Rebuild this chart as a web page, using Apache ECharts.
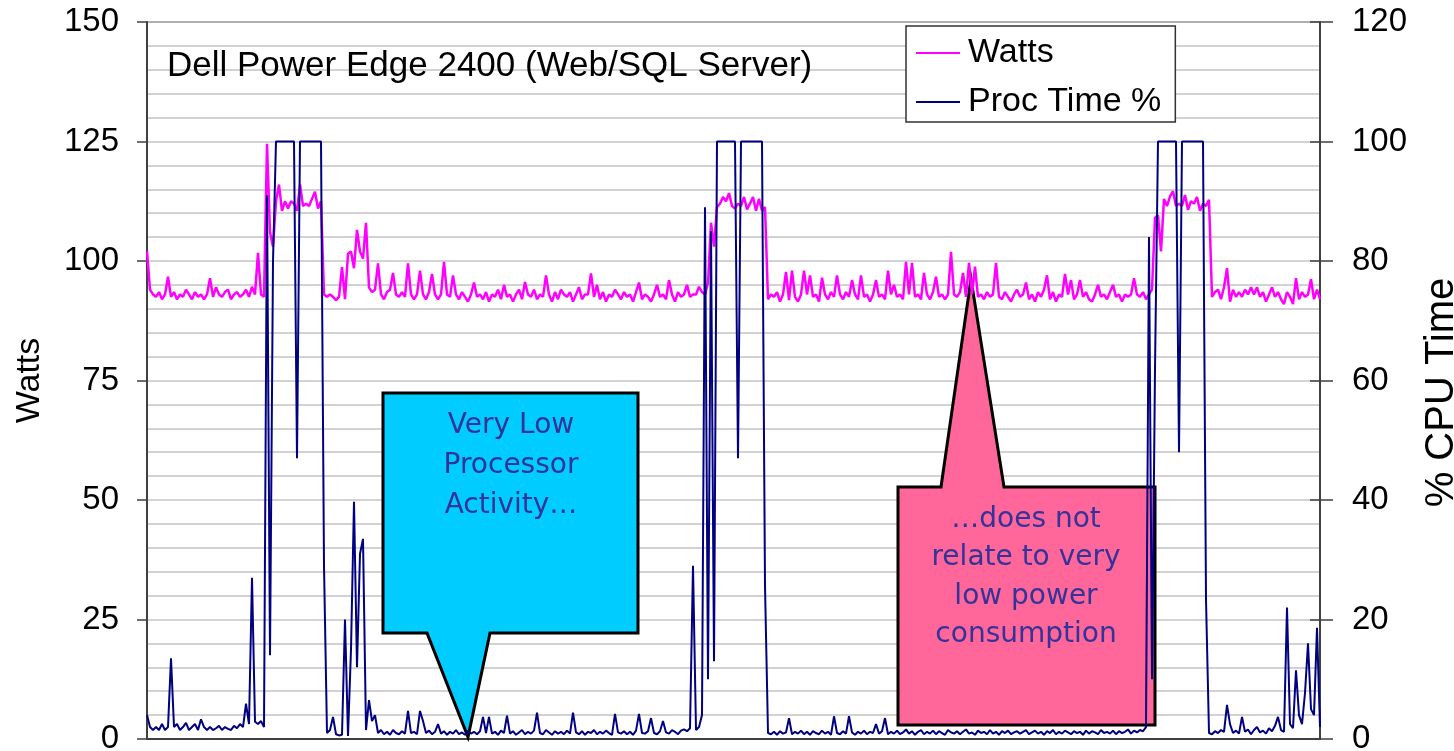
<!DOCTYPE html>
<html>
<head>
<meta charset="utf-8">
<title>Dell Power Edge 2400 - Watts vs Proc Time</title>
<script src="https://cdn.jsdelivr.net/npm/echarts@6/dist/echarts.min.js"></script>
<style>
  html, body { margin: 0; padding: 0; background: #fff; }
  #chart { width: 1454px; height: 751px; }
</style>
</head>
<body>
<div id="chart"></div>
<script>
// power draw, one reading per sample
const watts = [
  102, 94, 93, 92.5, 93.5, 92, 93, 96.7, 92.5, 93.5,
  92, 93, 92.5, 94, 93, 92, 93.5, 92.5, 93, 92,
  93, 96.4, 92.5, 94.5, 93, 92.5, 93.5, 94, 92, 93,
  93.5, 92.5, 93, 94, 92.5, 94.6, 93, 101.7, 93, 92.5,
  124.5, 106, 103, 112.5, 116, 110.5, 112.5, 111, 112.5, 112,
  110.5, 116, 111.5, 112, 111.5, 113, 114.5, 111, 112.5, 93,
  92.5, 93, 92.5, 91.8, 92.5, 98.7, 92, 101.5, 102, 98.5,
  106.5, 102, 100.5, 108, 94.5, 93.5, 94, 99.5, 93, 92,
  93.5, 94, 97.5, 93, 92.5, 93.5, 92.5, 99.5, 93, 92,
  93, 98, 93, 92, 93.5, 97.3, 93, 92, 93, 99.8,
  93, 92.5, 97, 93, 92, 93.5, 92.5, 91.5, 93, 95.5,
  92.5, 93, 92, 93.5, 91.5, 93, 92.5, 94, 92, 95,
  92.5, 93, 91.5, 93, 94, 92, 95.6, 93, 92.5, 94,
  92, 93, 92.5, 97, 93, 91.5, 93.5, 92, 94, 93,
  92.5, 93.5, 91.5, 93, 94.5, 92, 93, 93, 97.4, 92.5,
  95, 92, 93.5, 91.5, 93, 92.5, 94, 93, 92, 93.5,
  92.5, 93, 91.5, 93.5, 95.5, 92, 93, 92.5, 91.5, 93,
  95, 92.5, 93, 92, 96, 93, 91.5, 93.5, 92.5, 93,
  95, 92.5, 93, 93, 94.6, 93.5, 93, 95.4, 108, 103,
  111.3, 112, 113.4, 112.5, 114.2, 111.5, 111, 112, 111.5, 113.4,
  110.8, 112, 113.4, 110.5, 113, 110.5, 111.3, 92, 93, 92.5,
  93.5, 91.5, 93, 97.7, 91.8, 98, 92.5, 91.5, 93, 98,
  93, 97, 92.5, 93, 91.5, 96.5, 93, 92, 93.5, 92.5,
  97, 93, 92, 93.5, 92.5, 96, 93, 92, 97, 92.5,
  93, 91.5, 93, 96, 92.5, 93, 92, 98, 93, 95,
  92.5, 93, 92, 99.8, 93, 99.6, 92.5, 93, 92, 97.5,
  93, 92, 93.5, 96.7, 92.5, 93, 92, 93, 101.9, 93,
  92.5, 93.5, 97.5, 92.5, 99.6, 93, 98.8, 92.5, 93, 92,
  93.5, 92.5, 93, 99.6, 92.5, 92, 93.5, 92.5, 91.5, 93,
  94, 92.5, 93, 95.5, 92, 93, 91.5, 93.5, 92.5, 94,
  97, 92, 93.5, 91.5, 93, 92.5, 97.3, 93, 96, 92,
  93, 96, 92.5, 93.5, 92, 91.5, 93, 95, 92.5, 93,
  92, 93.5, 95, 92.5, 93, 91.5, 93, 92.5, 93, 96.4,
  93, 92.5, 93.5, 92, 93, 94, 109, 109.6, 102, 113,
  111.5, 113.5, 114.6, 111.5, 112, 111.5, 113.8, 110.7, 112.5, 112,
  113.4, 110.5, 112, 111.5, 112.8, 92.5, 93.5, 94, 92, 94.5,
  98.5, 91.5, 94, 92.5, 93.5, 92.5, 94, 93, 94.5, 93,
  94.5, 92.5, 93.5, 91.5, 93, 94.5, 92.5, 93.5, 92, 91,
  93.5, 92.5, 91, 96.4, 92, 93.5, 92.5, 93, 96.2, 92,
  94, 92
];

// processor time %, same samples
const procTime = [
  4, 2, 1.5, 2, 1.5, 2.5, 1.5, 2, 13.5, 2,
  2.5, 1.5, 2, 2.7, 1.5, 2, 2.5, 1.5, 3.3, 2,
  1.5, 2, 1.5, 1.8, 2.2, 1.5, 2, 1.7, 1.5, 2.2,
  1.8, 2.5, 2, 5.9, 2.5, 27, 2.9, 2.5, 3, 2,
  91, 14, 80, 100, 100, 100, 100, 100, 100, 100,
  47, 100, 100, 100, 100, 100, 100, 100, 100, 29,
  1, 1.5, 3.7, 0.8, 0.6, 0.7, 20, 0.5, 15, 39.7,
  12, 31, 33.5, 1.5, 6.5, 3, 4, 1, 1.5, 0.8,
  1.2, 0.7, 1.5, 1, 0.8, 1.3, 0.9, 4.7, 1, 1.2,
  0.8, 4.7, 3, 1, 1.4, 0.8, 1.2, 2.5, 0.9, 1.3,
  0.7, 1.2, 0.9, 1.5, 0.8, 1.1, 0.7, 1.4, 0.9, 1.2,
  0.8, 1.3, 3.7, 1, 3.7, 0.9, 1.2, 0.7, 1.4, 1,
  3.9, 0.9, 1.3, 0.7, 1.1, 1.5, 0.8, 1.2, 0.9, 1.4,
  4.4, 1, 0.8, 1.5, 1.1, 0.7, 1.3, 0.9, 1.2, 0.8,
  1.4, 0.9, 4.4, 1.1, 0.8, 1.3, 0.7, 1.2, 1, 1.5,
  0.8, 1.2, 0.9, 1.4, 1, 0.7, 4.2, 1.1, 0.9, 1.3,
  0.8, 1.2, 0.7, 1.4, 4.2, 1, 0.9, 1.3, 3.5, 1,
  0.8, 1.3, 3, 1.1, 0.9, 1.5, 1.2, 0.8, 1.4, 1.6,
  1.3, 1.8, 29, 1.5, 2, 4, 89, 10, 85, 13,
  100, 100, 100, 100, 100, 100, 100, 47, 100, 100,
  100, 100, 100, 100, 100, 100, 25.6, 1, 0.8, 1.2,
  0.7, 1.3, 0.9, 1.1, 3.5, 0.8, 1.2, 0.9, 1.4, 0.8,
  1.2, 0.7, 1.3, 1, 0.8, 1.4, 0.9, 1.2, 0.7, 3.8,
  1, 0.8, 1.3, 0.9, 3.8, 1.1, 0.7, 1.2, 0.9, 1.4,
  0.8, 1.2, 1, 2.5, 0.9, 1.3, 3.5, 0.8, 1.2, 0.9,
  1.4, 0.8, 1.1, 1.6, 0.9, 1.3, 0.7, 1.2, 1.5, 0.8,
  1.2, 0.9, 1.4, 0.8, 1.3, 1, 0.7, 1.5, 1.1, 0.9,
  1.3, 0.8, 1.2, 1.6, 0.9, 1.1, 0.7, 1.4, 1, 1.2,
  0.8, 1.5, 0.9, 1.2, 0.7, 1.3, 1, 1.4, 0.8, 1.1,
  1.3, 0.9, 1.2, 1.5, 0.8, 1.1, 1.4, 0.9, 1.2, 0.7,
  1.3, 1, 1.5, 0.8, 1.2, 0.9, 1.4, 1.1, 0.8, 1.3,
  1, 1.2, 0.7, 1.4, 0.9, 1.3, 1.1, 0.8, 1.5, 1,
  1.2, 0.9, 1.4, 0.8, 1.3, 1, 1.2, 1.6, 0.9, 1.4,
  1.1, 1.5, 1.3, 2, 84, 10, 62, 100, 100, 100,
  100, 100, 100, 100, 48, 100, 100, 100, 100, 100,
  100, 100, 100, 23.4, 1, 0.8, 1.3, 1, 1.5, 1.2,
  5.7, 2.5, 1, 1.4, 0.9, 3.7, 1.2, 1.6, 0.8, 1.5,
  2, 1.1, 1.4, 0.9, 1.8, 1.3, 2.2, 3.7, 1.5, 1.2,
  22, 2.5, 1.8, 11.5, 4, 2.5, 7.7, 16, 5, 4,
  18.6, 2
];

const samples = watts.map((_, i) => i);

const wattRange = { min: 0, max: 150, step: 25 };
const cpuRange = { min: 0, max: 120, step: 20 };

const font = 'Liberation Sans, Arial, Helvetica, sans-serif';
const noteFont = 'DejaVu Sans, Verdana, sans-serif';
const gridGray = '#c4c4c4';
const axisGray = '#404040';

const chart = echarts.init(document.getElementById('chart'));

const option = {
  animation: false,
  grid: {
    left: 147, right: 134, top: 22, bottom: 12,
    outerBoundsMode: 'none',
    show: true, borderColor: axisGray, borderWidth: 1.5, backgroundColor: '#fff'
  },
  legend: {
    orient: 'vertical',
    left: 906, top: 26,
    padding: [10, 14, 3, 10],
    itemGap: 15, itemWidth: 44, itemHeight: 2,
    icon: 'rect',
    backgroundColor: '#fff', borderColor: '#333', borderWidth: 1.5,
    textStyle: { fontSize: 34, fontFamily: font, color: '#000', padding: [0, 0, 0, 3] },
    data: ['Watts', 'Proc Time %'],
    z: 10
  },
  xAxis: {
    type: 'category',
    data: samples,
    boundaryGap: false,
    axisLine: { show: true, lineStyle: { color: axisGray, width: 2 } },
    axisTick: { show: false },
    axisLabel: { show: false },
    splitLine: { show: false }
  },
  yAxis: [
    {
      type: 'value',
      min: wattRange.min, max: wattRange.max, interval: wattRange.step,
      name: 'Watts',
      nameLocation: 'middle', nameGap: 100, nameRotate: 90,
      nameTextStyle: { fontSize: 34, fontFamily: font, color: '#000' },
      axisLine: { show: true, lineStyle: { color: axisGray, width: 2 } },
      axisTick: { show: true, length: 10, lineStyle: { color: axisGray, width: 1.5 } },
      axisLabel: { fontSize: 33, fontFamily: font, color: '#000', margin: 28 },
      splitLine: { show: true, lineStyle: { color: gridGray, width: 1.5 } },
      minorTick: { show: false, splitNumber: 5 },
      minorSplitLine: { show: true, lineStyle: { color: gridGray, width: 1.5 } }
    },
    {
      type: 'value',
      position: 'right',
      min: cpuRange.min, max: cpuRange.max, interval: cpuRange.step,
      name: '% CPU Time',
      nameLocation: 'middle', nameGap: 102, nameRotate: 90,
      nameTextStyle: { fontSize: 40, fontFamily: font, color: '#000', padding: [0, 24, 0, 0] },
      axisLine: { show: true, lineStyle: { color: axisGray, width: 2 } },
      axisTick: { show: true, length: 13, lineStyle: { color: axisGray, width: 1.5 } },
      axisLabel: { fontSize: 33, fontFamily: font, color: '#000', margin: 32 },
      splitLine: { show: false }
    },
    {
      // inner half of the crossing ticks on the right axis
      type: 'value',
      position: 'right',
      min: cpuRange.min, max: cpuRange.max, interval: cpuRange.step,
      axisLine: { show: false },
      axisTick: { show: true, inside: true, length: 10, lineStyle: { color: axisGray, width: 1.5 } },
      axisLabel: { show: false },
      splitLine: { show: false }
    }
  ],
  series: [
    {
      name: 'Watts', type: 'line', yAxisIndex: 0,
      data: watts, symbol: 'none', z: 3,
      lineStyle: { color: '#ff00ff', width: 2.5 },
      itemStyle: { color: '#ff00ff' }
    },
    {
      name: 'Proc Time %', type: 'line', yAxisIndex: 1,
      data: procTime, symbol: 'none', z: 4,
      lineStyle: { color: '#000080', width: 2 },
      itemStyle: { color: '#000080' }
    }
  ],
  graphic: [
    {
      type: 'text', z: 5, x: 167, y: 66,
      style: {
        text: 'Dell Power Edge 2400 (Web/SQL Server)',
        fontSize: 35, fontFamily: font, fill: '#000',
        align: 'left', verticalAlign: 'middle', textAlign: 'left', textVerticalAlign: 'middle'
      }
    },
    {
      type: 'polygon', z: 1,
      shape: { points: [[383, 393], [638, 393], [638, 633], [490, 633], [468, 737], [427, 633], [383, 633]] },
      style: { fill: '#00ccff', stroke: '#000', lineWidth: 3 }
    },
    {
      type: 'text', z: 1, x: 511, y: 466,
      style: {
        text: 'Very Low\nProcessor\nActivity…',
        fontSize: 28, fontFamily: noteFont, fill: '#333399', lineHeight: 40,
        align: 'center', verticalAlign: 'middle', textAlign: 'center', textVerticalAlign: 'middle'
      }
    },
    {
      type: 'polygon', z: 1,
      shape: { points: [[898, 487], [941, 487], [971, 279], [1004, 487], [1155, 487], [1155, 725], [898, 725]] },
      style: { fill: '#ff6699', stroke: '#000', lineWidth: 3 }
    },
    {
      type: 'text', z: 1, x: 1026, y: 577,
      style: {
        text: '…does not\nrelate to very\nlow power\nconsumption',
        fontSize: 28, fontFamily: noteFont, fill: '#333399', lineHeight: 38.5,
        align: 'center', verticalAlign: 'middle', textAlign: 'center', textVerticalAlign: 'middle'
      }
    }
  ]
};

chart.setOption(option);
window.addEventListener('resize', () => chart.resize());
</script>
</body>
</html>
